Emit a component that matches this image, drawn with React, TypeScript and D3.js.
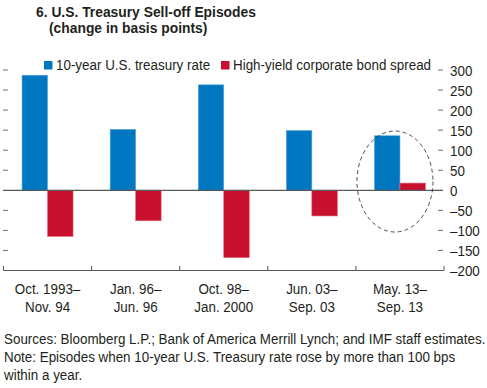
import React, { useEffect, useRef } from "react";
import * as d3 from "d3";

const categories = [
  ["Oct. 1993–", "Nov. 94"],
  ["Jan. 96–", "Jun. 96"],
  ["Oct. 98–", "Jan. 2000"],
  ["Jun. 03–", "Sep. 03"],
  ["May. 13–", "Sep. 13"],
];
const treasury = [287, 152, 263, 149, 136];
const hySpread = [-115, -76, -168, -64, 18];
const yTicks = [300, 250, 200, 150, 100, 50, 0, -50, -100, -150, -200];
const seriesNames = ["10-year U.S. treasury rate", "High-yield corporate bond spread"];
const colors = ["#0077c1", "#c8102e"];
const footnotes = [
  "Sources: Bloomberg L.P.; Bank of America Merrill Lynch; and IMF staff estimates.",
  "Note: Episodes when 10-year U.S. Treasury rate rose by more than 100 bps",
  "within a year.",
];

const W = 487;
const H = 388;
const FONT = "'Liberation Sans', Arial, sans-serif";
const SX = 0.893; // squeeze to mimic a condensed face

type Sel = d3.Selection<any, unknown, null, undefined>;

// text drawn in a horizontally squeezed group
function label(parent: Sel, x: number, y: number, txt: string, size = 15, bold = false, anchor = "start") {
  parent
    .append("g")
    .attr("transform", `translate(${x},${y}) scale(${SX},1)`)
    .append("text")
    .attr("text-anchor", anchor)
    .style("font-family", FONT)
    .style("font-size", size + "px")
    .style("font-weight", bold ? "bold" : "normal")
    .attr("fill", "#231f20")
    .text(txt);
}

export default function App() {
  const ref = useRef<SVGSVGElement>(null);

  useEffect(() => {
    const svg = d3.select(ref.current) as Sel;
    svg.selectAll("*").remove();
    const left = 3.5;
    const right = 444;
    const y = d3.scaleLinear().domain([-200, 300]).range([270.5, 70]);
    const x = d3
      .scaleBand()
      .domain(categories.map((_, i) => String(i)))
      .range([left, right]);
    const barW = 25.5;

    // title
    label(svg, 36, 17, "6. U.S. Treasury Sell-off Episodes", 15.5, true);
    label(svg, 49, 33, "(change in basis points)", 15.5, true);

    // y ticks both sides
    const tickG = svg.append("g").attr("stroke", "#6d6e71").attr("stroke-width", 1);
    yTicks.filter((t) => t !== -200 && t !== 0).forEach((t) => {
      tickG.append("line").attr("x1", 3).attr("x2", 8).attr("y1", y(t)).attr("y2", y(t));
      tickG.append("line").attr("x1", 438).attr("x2", 443).attr("y1", y(t)).attr("y2", y(t));
    });
    yTicks.forEach((d) => {
      label(svg, 450, y(d) + 5.5, d < 0 ? "–" + Math.abs(d) : String(d));
    });

    // bars
    categories.forEach((_, i) => {
      const cx = (x(String(i)) as number) + x.bandwidth() / 2;
      [treasury[i], hySpread[i]].forEach((v, j) => {
        svg.append("rect")
          .attr("x", cx - barW + j * barW)
          .attr("y", Math.min(y(v), y(0)))
          .attr("width", barW)
          .attr("height", Math.abs(y(v) - y(0)))
          .attr("fill", colors[j])
          .attr("stroke", j === 0 ? "#5aa6dc" : "#e0697d")
          .attr("stroke-width", 0.6);
      });
    });

    // zero line
    svg.append("line").attr("x1", 3).attr("x2", 443).attr("y1", y(0)).attr("y2", y(0))
      .attr("stroke", "#58595b").attr("stroke-width", 1.2);

    // bottom axis
    const axG = svg.append("g").attr("stroke", "#58595b").attr("stroke-width", 1);
    axG.append("line").attr("x1", left).attr("x2", right).attr("y1", 270.5).attr("y2", 270.5);
    d3.range(categories.length + 1).forEach((i) => {
      const xx = left + i * x.step();
      axG.append("line").attr("x1", xx).attr("x2", xx).attr("y1", 266).attr("y2", 270.5);
    });

    // category labels
    categories.forEach((lines, i) => {
      const cx = (x(String(i)) as number) + x.bandwidth() / 2;
      lines.forEach((l, k) => label(svg, cx, 294 + k * 18, l, 15, false, "middle"));
    });

    // legend
    const lx = [44, 221];
    seriesNames.forEach((n, j) => {
      svg.append("rect").attr("x", lx[j]).attr("y", 61).attr("width", 8.5).attr("height", 8.5).attr("fill", colors[j]);
      label(svg, lx[j] + 12, 70, n);
    });

    // dashed ellipse around last episode
    const last = (x(String(categories.length - 1)) as number) + x.bandwidth() / 2;
    svg.append("ellipse").attr("cx", last - 5).attr("cy", 181.5).attr("rx", 38).attr("ry", 50.5)
      .attr("fill", "none").attr("stroke", "#231f20").attr("stroke-width", 0.8)
      .attr("stroke-dasharray", "4,3");

    // footnotes
    footnotes.forEach((f, k) => label(svg, 4, 344 + k * 18, f));
  }, []);

  return (
    <svg
      ref={ref}
      width={W}
      height={H}
      style={{ position: "absolute", left: 0, top: 0, background: "#fff" }}
    />
  );
}
